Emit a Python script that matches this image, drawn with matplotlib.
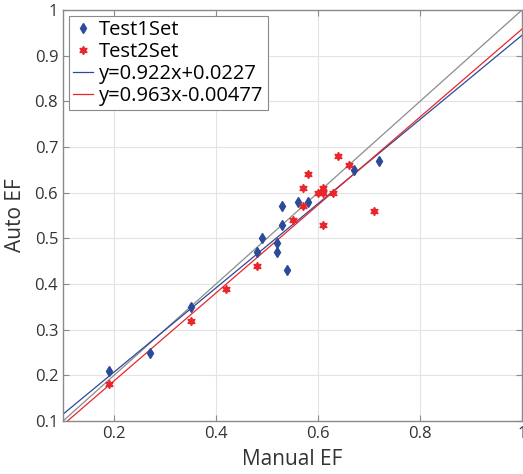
import matplotlib.pyplot as plt
import numpy as np

plt.rcParams['font.family'] = ['Open Sans', 'DejaVu Sans']

# Test1Set (blue diamonds)
test1_manual = [0.19, 0.27, 0.35, 0.48, 0.49, 0.52, 0.52, 0.53, 0.53, 0.54, 0.56, 0.58, 0.67, 0.72]
test1_auto = [0.21, 0.25, 0.35, 0.47, 0.50, 0.49, 0.47, 0.57, 0.53, 0.43, 0.58, 0.58, 0.65, 0.67]

# Test2Set (red stars)
test2_manual = [0.19, 0.35, 0.42, 0.48, 0.55, 0.57, 0.57, 0.58, 0.60, 0.61, 0.61, 0.61, 0.63, 0.64, 0.66, 0.71]
test2_auto = [0.18, 0.32, 0.39, 0.44, 0.54, 0.61, 0.57, 0.64, 0.60, 0.61, 0.60, 0.53, 0.60, 0.68, 0.66, 0.56]

fit1 = (0.922, 0.0227)
fit2 = (0.963, -0.00477)

blue = '#2c4a9a'
red = '#e8262b'

fig = plt.figure(figsize=(5.23, 4.74), dpi=100)
ax = fig.add_axes([63 / 523, 53 / 474, 459 / 523, 411 / 474])

xx = np.array([0.1, 1.0])
ax.plot(xx, xx, color='#8c8c8c', lw=0.9, zorder=1)
ax.plot(test1_manual, test1_auto, 'd', color=blue, ms=5.5, label='Test1Set', zorder=3)
ax.plot(test2_manual, test2_auto, marker=(6, 1, 0), ls='none', color=red, ms=6,
        label='Test2Set', zorder=3)
ax.plot(xx, fit1[0] * xx + fit1[1], color=blue, lw=0.9,
        label='y=%gx+%g' % fit1, zorder=2)
ax.plot(xx, fit2[0] * xx + fit2[1], color=red, lw=0.9,
        label='y=%gx%g' % fit2, zorder=2)

ax.set_xlim(0.1, 1)
ax.set_ylim(0.1, 1)
ax.set_xticks([0.2, 0.4, 0.6, 0.8, 1])
ax.set_xticklabels(['0.2', '0.4', '0.6', '0.8', '1'])
ax.set_yticks(np.arange(0.1, 1.01, 0.1))
ax.set_yticklabels(['0.1', '0.2', '0.3', '0.4', '0.5', '0.6', '0.7', '0.8', '0.9', '1'])
ax.grid(True, color='#e3e3e3', lw=0.8)
ax.set_axisbelow(True)
for s in ax.spines.values():
    s.set_color('#8a8a8a')
    s.set_linewidth(1.0)
ax.tick_params(direction='in', top=True, right=True, colors='#8a8a8a',
               labelcolor='#333333', labelsize=12, length=4)
ax.set_xlabel('Manual EF', fontsize=15, color='#333333', labelpad=5)
ax.set_ylabel('Auto EF', fontsize=15, color='#333333', labelpad=6)

leg = ax.legend(loc='upper left', fontsize=14.5, handlelength=1.0, handletextpad=0.3,
                borderpad=0.2, labelspacing=0.1, borderaxespad=0.3, fancybox=False,
                framealpha=1, edgecolor='#8a8a8a')
leg.get_frame().set_linewidth(0.8)

fig.savefig('out.png', dpi=100)
